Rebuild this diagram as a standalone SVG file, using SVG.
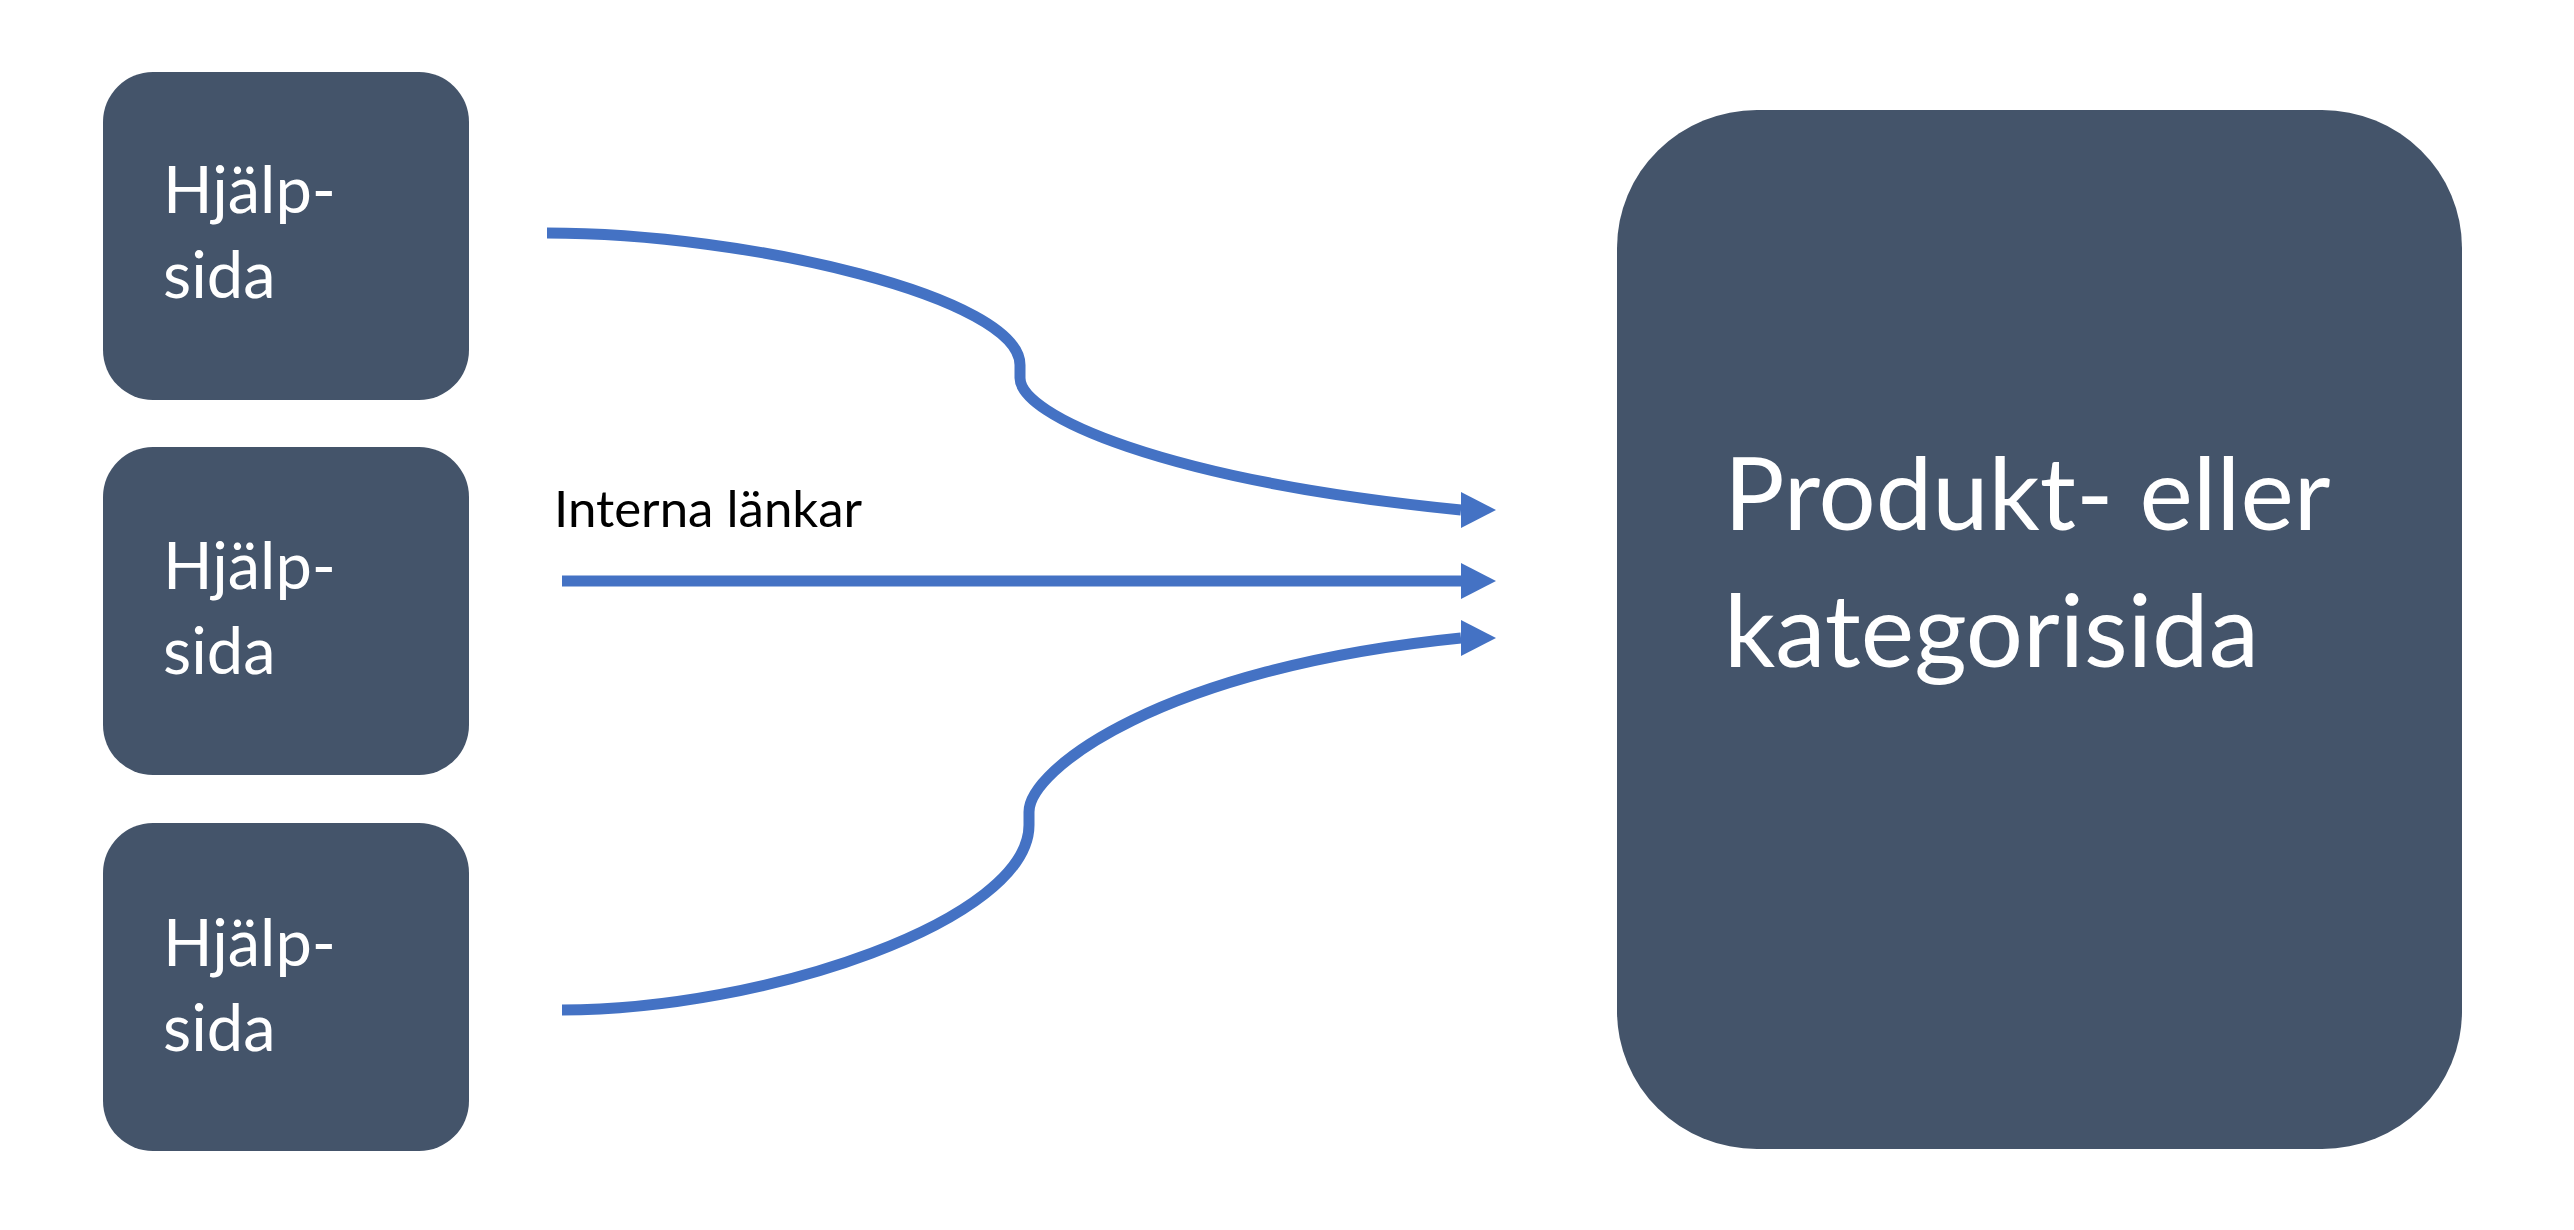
<svg xmlns="http://www.w3.org/2000/svg" width="2574" height="1230" viewBox="0 0 2574 1230">
  <style>
    .node { fill: #44546A; }
    .lbl { font-family: Lato, "Open Sans", "Liberation Sans", sans-serif; fill: #FFFFFF; }
    .small { font-size: 65px; }
    .big { font-size: 101px; }
    .conn { fill: none; stroke: #4472C4; stroke-width: 11; stroke-linejoin: round; }
    .edge-label { font-family: Lato, "Open Sans", "Liberation Sans", sans-serif; font-size: 51px; fill: #000000; }
  </style>
  <defs>
    <marker id="arrow" markerUnits="userSpaceOnUse" viewBox="0 0 35 36" refX="0" refY="18" markerWidth="35" markerHeight="36" orient="0">
      <path d="M0,0 L35,18 L0,36 Z" fill="#4472C4"/>
    </marker>
  </defs>
  <rect width="2574" height="1230" fill="#FFFFFF"/>

  <g id="help1">
    <rect class="node" x="103" y="72" width="366" height="328" rx="50" ry="50"/>
    <text class="lbl small" x="163" y="213">Hjälp-</text>
    <text class="lbl small" x="163" y="298">sida</text>
  </g>
  <g id="help2">
    <rect class="node" x="103" y="447" width="366" height="328" rx="50" ry="50"/>
    <text class="lbl small" x="163" y="589">Hjälp-</text>
    <text class="lbl small" x="163" y="674">sida</text>
  </g>
  <g id="help3">
    <rect class="node" x="103" y="823" width="366" height="328" rx="50" ry="50"/>
    <text class="lbl small" x="163" y="966">Hjälp-</text>
    <text class="lbl small" x="163" y="1051">sida</text>
  </g>
  <g id="target">
    <rect class="node" x="1617" y="110" width="845" height="1039" rx="140" ry="138"/>
    <text class="lbl big" x="1724" y="530">Produkt- eller</text>
    <text class="lbl big" x="1724" y="667">kategorisida</text>
  </g>

  <g id="connectors">
    <path class="conn" marker-end="url(#arrow)" d="M547,233 C750,233 1020,298 1020,365 L1020,378 C1020,415 1160,480 1461,510"/>
    <path class="conn" marker-end="url(#arrow)" d="M562,581 L1461,581"/>
    <path class="conn" marker-end="url(#arrow)" d="M562,1010 C765,1010 1029,920 1029,825 L1029,812 C1029,770 1160,668 1461,638"/>
    <text class="edge-label" x="554" y="527">Interna länkar</text>
  </g>
</svg>
